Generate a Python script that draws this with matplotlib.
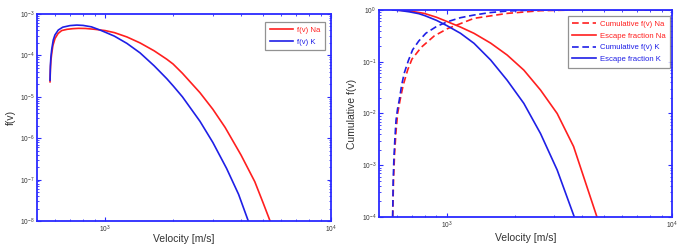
import matplotlib
matplotlib.use("Agg")
import matplotlib.pyplot as plt
from matplotlib.ticker import LogLocator, NullFormatter

plt.rcParams['font.family'] = ['Liberation Sans', 'DejaVu Sans']
plt.rcParams['mathtext.fontset'] = 'custom'
plt.rcParams['mathtext.rm'] = 'Liberation Sans'
plt.rcParams['mathtext.it'] = 'Liberation Sans:italic'

# ---- data ----
v_na = [571, 573, 576, 581, 588, 601, 620, 643, 680, 720, 762, 820, 900, 1000, 1100,
        1250, 1429, 1650, 1875, 2000, 2200, 2630, 3000, 3400, 4000, 4600, 5000, 5375]
f_na = [2.3e-5, 4.5e-5, 7.4e-5, 1.12e-4, 1.74e-4, 2.57e-4, 3.39e-4, 3.98e-4, 4.27e-4,
        4.42e-4, 4.5e-4, 4.47e-4, 4.27e-4, 3.98e-4, 3.55e-4, 2.79e-4, 2.0e-4, 1.29e-4,
        8.1e-5, 6.2e-5, 3.7e-5, 1.26e-5, 5.0e-6, 1.82e-6, 3.9e-7, 8.9e-8, 2.8e-8, 1.0e-8]

v_k = [571, 573, 576, 581, 590, 600, 621, 650, 700, 750, 800, 870, 950, 1000, 1100,
       1250, 1429, 1650, 1875, 2005, 2200, 2630, 3000, 3451, 3900, 4305]
f_k = [2.5e-5, 5.5e-5, 9.0e-5, 1.4e-4, 2.35e-4, 3.1e-4, 4.1e-4, 4.8e-4, 5.25e-4, 5.4e-4,
       5.3e-4, 4.9e-4, 4.1e-4, 3.65e-4, 2.92e-4, 1.95e-4, 1.15e-4, 5.6e-5, 2.75e-5, 1.82e-5,
       1.0e-5, 2.57e-6, 7.9e-7, 1.86e-7, 4.4e-8, 1.0e-8]

v_cum_na = [575, 580, 586, 595, 605, 620, 640, 670, 700, 770, 880, 960, 1007, 1321,
            1853, 2607, 3500, 5000, 10000]
cum_na = [1e-4, 5.0e-4, 1.6e-3, 4.5e-3, 1.0e-2, 1.8e-2, 3.5e-2, 6.9e-2, 0.112, 0.19,
          0.316, 0.389, 0.436, 0.69, 0.86, 0.97, 0.995, 1.0, 1.0]

v_cum_k = [575, 578, 582, 588, 595, 605, 615, 630, 647, 675, 705, 750, 807, 900, 1007,
           1150, 1321, 1550, 1853, 2200, 2600, 3000, 4000, 10000]
cum_k = [1e-4, 5.0e-4, 1.26e-3, 3.2e-3, 7.4e-3, 1.26e-2, 1.8e-2, 3.5e-2, 6.0e-2, 0.105,
         0.17, 0.25, 0.355, 0.48, 0.594, 0.71, 0.8, 0.89, 0.955, 0.982, 0.993, 0.998,
         1.0, 1.0]

v_esc_na = [575, 670, 794, 900, 1007, 1150, 1321, 1566, 1853, 2198, 2607, 3091, 3656, 4643]
esc_na = [1.0, 0.97, 0.86, 0.724, 0.594, 0.468, 0.354, 0.229, 0.135, 0.069, 0.0284,
          0.01, 2.3e-3, 1e-4]

v_esc_k = [575, 620, 680, 750, 800, 900, 1000, 1150, 1321, 1566, 1853, 2198, 2607,
           3091, 3683]
esc_k = [1.0, 0.977, 0.923, 0.851, 0.776, 0.631, 0.5, 0.355, 0.227, 0.108, 0.044,
         0.0157, 4.1e-3, 8.1e-4, 1e-4]

RED = "#ff1f1f"
BLUE = "#1f1fe6"
FRAME = "#2a2aff"
TXT = "#333333"

fig = plt.figure(figsize=(6.85, 2.45), dpi=100)
ax1 = fig.add_axes([37/685, 1-221/245, (331-37)/685, (221-14)/245])
ax2 = fig.add_axes([379/685, 1-217/245, (672-379)/685, (217-10)/245])

lw = 1.2
ax1.plot(v_na, f_na, color=RED, lw=lw, label="f(v) Na")
ax1.plot(v_k, f_k, color=BLUE, lw=lw, label="f(v) K")
ax1.set_ylim(1e-8, 1e-3)
ax1.set_ylabel("f(v)", fontsize=7.5, color=TXT, labelpad=3)

dash = (0, (4.0, 2.2))
ax2.plot(v_cum_na, cum_na, color=RED, lw=lw, ls=dash, label="Cumulative f(v) Na")
ax2.plot(v_esc_na, esc_na, color=RED, lw=lw, label="Escape fraction Na")
ax2.plot(v_cum_k, cum_k, color=BLUE, lw=lw, ls=dash, label="Cumulative f(v) K")
ax2.plot(v_esc_k, esc_k, color=BLUE, lw=lw, label="Escape fraction K")
ax2.set_ylim(1e-4, 1)
ax2.set_ylabel("Cumulative f(v)", fontsize=7.5, color=TXT, labelpad=3)

anchors = {ax1: ((325-37)/294, (221-21.7)/207), ax2: ((670-379)/293, (217-15.7)/207)}
for ax in (ax1, ax2):
    ax.set_xscale("log")
    ax.set_yscale("log")
    ax.set_xlim(500, 1e4)
    ax.set_xlabel("Velocity [m/s]", fontsize=7.5, color=TXT,
                  labelpad=-0.5 if ax is ax1 else 1.5)
    for s in ax.spines.values():
        s.set_color(FRAME)
        s.set_linewidth(1.3)
    ax.xaxis.set_major_locator(LogLocator(base=10, numticks=10))
    ax.xaxis.set_minor_locator(LogLocator(base=10, subs=range(2, 10), numticks=20))
    ax.xaxis.set_minor_formatter(NullFormatter())
    ax.yaxis.set_minor_locator(LogLocator(base=10, subs=range(2, 10), numticks=20))
    ax.yaxis.set_minor_formatter(NullFormatter())
    ax.tick_params(which="both", direction="in", top=True, right=True, color=FRAME,
                   labelsize=4.8, labelcolor=TXT, pad=2)
    ax.tick_params(which="major", length=3, width=0.8)
    ax.tick_params(which="minor", length=1.6, width=0.6)
    leg = ax.legend(loc="upper right", bbox_to_anchor=anchors[ax], borderaxespad=0,
                    fontsize=5.6, frameon=True, fancybox=False,
                    handlelength=3.0, handletextpad=0.5, borderpad=0.6,
                    labelspacing=0.55)
    leg.get_frame().set_edgecolor("#777777")
    leg.get_frame().set_linewidth(0.9)
    for t, l in zip(leg.get_texts(), leg.get_lines()):
        t.set_color(l.get_color())

fig.savefig("out.png", dpi=100)
